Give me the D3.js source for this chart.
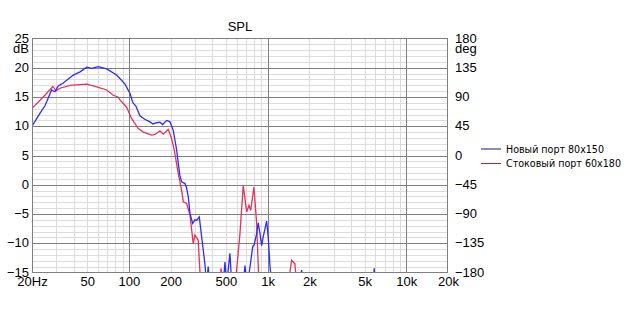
<!DOCTYPE html>
<html>
<head>
<meta charset="utf-8">
<script src="https://cdn.jsdelivr.net/npm/d3@7"></script>
<style>
  body { margin: 0; background: #fff; }
  svg text { font-family: "Liberation Sans", Arial, sans-serif; font-size: 13px; fill: #000; }
  svg .legend text { font-family: "DejaVu Sans", sans-serif; font-size: 10px; }
</style>
</head>
<body>
<svg id="chart" width="631" height="313"></svg>
<script>
// [Hz, dB]
const blueSeries = [
  [20,10.0],[22.8,12.2],[24.8,13.5],[27.7,16.2],[29.3,15.9],[30.9,16.9],[33.6,17.4],
  [39.7,18.75],[44.4,19.3],[49.6,20.1],[53.9,19.9],[60.1,20.2],[69.1,19.8],[81.6,18.75],
  [93.7,17.2],[101.8,15.6],[107,14.0],[112,13.5],[120,11.8],[130,11.2],[142,10.75],
  [149,10.4],[158.5,10.6],[167.4,10.7],[175,10.3],[187,11.0],[197.8,10.75],[208.8,9.3],
  [221,5.9],[227,3.6],[233,1.6],[240,0.5],[253.6,0.2],[260.8,-0.6],[268,-2.1],[275.6,-4.9],
  [288,-6.6],[299,-6.0],[308,-6.1],[321.6,-5.5],[334.6,-8.9],[343.6,-11.2],[353,-13.5],
  [363.6,-17],[373,-14],[382,-17],[479,-17],[492.6,-13.2],[507,-17],[535,-11.7],[551,-17],
  [667.6,-17],[687,-13.8],[706,-17],[737,-15],[755,-13.2],[780,-10.65],[801,-10.2],
  [834,-8.35],[856,-6.5],[881,-8.35],[906,-10.4],[930,-8.9],[984,-6.2],[1010,-8.9],
  [1040,-13.8],[1070,-17],[1700,-17],[1760,-14.6],[1820,-17],[5780,-17],[5876,-14.3],
  [5970,-17],[20000,-17]
];
const redSeries = [
  [20,13.05],[24.1,15.0],[28.3,16.8],[29.8,16.05],[31.8,16.5],[37.6,17.0],[49.6,17.2],
  [58.6,16.75],[69.1,16.2],[77.1,15.3],[83.4,15.0],[86.2,14.5],[96,13.3],[104.7,11.3],
  [116.8,9.6],[127,9.0],[146,8.5],[154,8.6],[167.4,9.2],[176.8,8.65],[192,9.45],[203,7.9],
  [212,6.0],[220,3.8],[226.9,1.9],[240,-0.95],[246.6,-2.9],[260.8,-3.2],[275.6,-5.2],
  [291,-10.1],[299,-8.6],[316,-9.5],[329,-17],[450,-17],[462,-14.3],[475,-17],[585,-17],
  [632,-8.35],[667.6,-0.1],[706,-4.65],[733.6,-3.5],[755,-4.4],[797,-0.4],[834,-6.6],
  [866,-17],[1410,-17],[1490,-12.9],[1574,-13.5],[1620,-17],[20000,-17]
];
const seriesNames = ["Новый порт 80x150", "Стоковый порт 60x180"];
const seriesColors = ["#2b2bff", "#e3335a"];
const legendColors = ["#14148c", "#b4203c"];

const freqTicks = [20, 50, 100, 200, 500, 1000, 2000, 5000, 10000, 20000];
const freqLabels = ["20Hz", "50", "100", "200", "500", "1k", "2k", "5k", "10k", "20k"];
const dbTicks = [25, 20, 15, 10, 5, 0, -5, -10, -15];
const degTicks = [180, 135, 90, 45, 0, -45, -90, -135, -180];

const svg = d3.select("#chart");
const pL = 32, pR = 448, pT = 38.5, pB = 272.5;

const x = d3.scaleLog().domain([20, 20000]).range([pL, pR]);
const y = d3.scaleLinear().domain([-15, 25]).range([pB, pT]);
const yDeg = d3.scaleLinear().domain([-180, 180]).range([pB, pT]);

// grid: light every 1 dB / every decade step, dark every 5 dB / decade
const minorF = [];
[10, 100, 1000, 10000].forEach(d => { for (let k = 1; k < 10; k++) { const f = d * k; if (f > 20 && f < 20000) minorF.push(f); } });
const majorF = [100, 1000, 10000];
const minorDb = d3.range(-14, 25).filter(v => v % 5 !== 0);
const majorDb = [20, 15, 10, 5, 0, -5, -10];

const grid = svg.append("g");
grid.selectAll(".mh").data(minorDb).enter().append("line")
  .attr("x1", pL).attr("x2", pR)
  .attr("y1", d => Math.round(y(d)) + 0.5).attr("y2", d => Math.round(y(d)) + 0.5)
  .attr("stroke", "#dcdcdc");
grid.selectAll(".mv").data(minorF.filter(f => !majorF.includes(f))).enter().append("line")
  .attr("y1", pT).attr("y2", pB)
  .attr("x1", d => Math.round(x(d)) + 0.5).attr("x2", d => Math.round(x(d)) + 0.5)
  .attr("stroke", "#dcdcdc");
grid.selectAll(".Mh").data(majorDb).enter().append("line")
  .attr("x1", pL).attr("x2", pR)
  .attr("y1", d => Math.round(y(d)) + 0.5).attr("y2", d => Math.round(y(d)) + 0.5)
  .attr("stroke", "#7f7f7f");
grid.selectAll(".Mv").data(majorF).enter().append("line")
  .attr("y1", pT).attr("y2", pB)
  .attr("x1", d => Math.round(x(d)) + 0.5).attr("x2", d => Math.round(x(d)) + 0.5)
  .attr("stroke", "#7f7f7f");

svg.append("clipPath").attr("id", "plot")
  .append("rect").attr("x", pL).attr("y", pT).attr("width", pR - pL).attr("height", pB - pT);

const line = d3.line().x(d => x(d[0])).y(d => y(d[1]));
const plot = svg.append("g").attr("clip-path", "url(#plot)");
plot.append("path").datum(redSeries).attr("d", line)
  .attr("fill", "none").attr("stroke", seriesColors[1]).attr("stroke-width", 1.3);
plot.append("path").datum(blueSeries).attr("d", line)
  .attr("fill", "none").attr("stroke", seriesColors[0]).attr("stroke-width", 1.3);

// frame
svg.append("rect").attr("x", pL + 0.5).attr("y", pT).attr("width", pR - pL - 1).attr("height", pB - pT)
  .attr("fill", "none").attr("stroke", "#7f7f7f");

// axes
const xAxis = d3.axisBottom(x).tickValues(freqTicks).tickFormat((d, i) => freqLabels[i]).tickSize(0).tickPadding(4);
svg.append("g").attr("transform", `translate(0,${pB})`).call(xAxis)
  .call(g => g.select(".domain").remove())
  .selectAll("text").attr("font-size", null).attr("font-family", null);

const yAxis = d3.axisLeft(y).tickValues(dbTicks).tickSize(0).tickPadding(3);
svg.append("g").attr("transform", `translate(${pL},0)`).call(yAxis)
  .call(g => g.select(".domain").remove())
  .selectAll("text").attr("font-size", null).attr("font-family", null).attr("dy", "0.28em");

const yAxisR = d3.axisRight(yDeg).tickValues(degTicks).tickSize(0).tickPadding(7);
svg.append("g").attr("transform", `translate(${pR},0)`).call(yAxisR)
  .call(g => g.select(".domain").remove())
  .selectAll("text").attr("font-size", null).attr("font-family", null).attr("dy", "0.28em");

svg.append("text").attr("x", pL - 3).attr("y", pT + 14).attr("text-anchor", "end").text("dB");
svg.append("text").attr("x", pR + 7).attr("y", pT + 14).text("deg");
svg.append("text").attr("x", (pL + pR) / 2).attr("y", 31).attr("text-anchor", "middle").text("SPL");

// legend (text widths matched to the original)
const legendWidths = [98, 115];
const legend = svg.append("g").attr("class", "legend").attr("transform", "translate(481,148.5)");
seriesNames.forEach((name, i) => {
  const row = legend.append("g").attr("transform", `translate(0,${i * 14.5})`);
  row.append("line").attr("x1", 0).attr("x2", 20).attr("y1", 0.5).attr("y2", 0.5)
    .attr("stroke", legendColors[i]);
  row.append("text").attr("x", 25).attr("y", 4)
    .attr("textLength", legendWidths[i]).attr("lengthAdjust", "spacingAndGlyphs")
    .text(name);
});
</script>
</body>
</html>
